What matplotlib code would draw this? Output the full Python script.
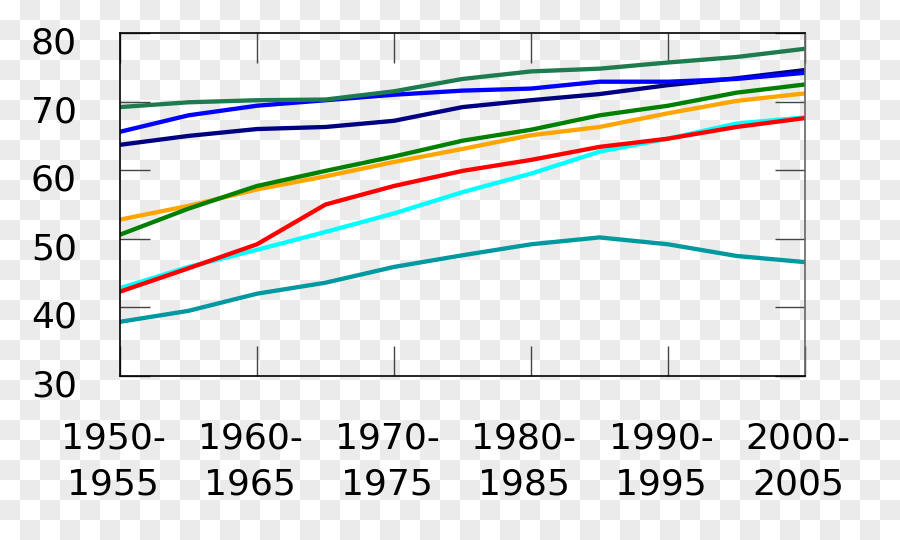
"""Life expectancy by region, 1950-2005 (line chart recreation)."""

import matplotlib

matplotlib.use("Agg")
import matplotlib.pyplot as plt
import matplotlib.transforms as mtransforms
import numpy as np

# five-year periods, one point each
periods = [
    "1950-\n1955", "1955-\n1960", "1960-\n1965", "1965-\n1970",
    "1970-\n1975", "1975-\n1980", "1980-\n1985", "1985-\n1990",
    "1990-\n1995", "1995-\n2000", "2000-\n2005",
]

top_green = [69.2, 69.9, 70.2, 70.3, 71.5, 73.3, 74.4, 74.8, 75.7, 76.5, 77.7]
blue = [65.6, 68.0, 69.4, 70.2, 71.0, 71.6, 71.9, 72.9, 72.9, 73.3, 74.2]
navy = [63.7, 65.0, 66.0, 66.3, 67.2, 69.2, 70.2, 71.1, 72.4, 73.4, 74.6]
green = [50.6, 54.4, 57.7, 59.9, 62.0, 64.3, 65.9, 68.0, 69.4, 71.3, 72.5]
orange = [52.8, 54.8, 57.2, 59.1, 61.2, 63.1, 65.1, 66.3, 68.3, 70.1, 71.2]
red = [42.3, 45.7, 49.2, 55.0, 57.7, 59.9, 61.5, 63.4, 64.6, 66.3, 67.6]
cyan = [42.8, 45.9, 48.4, 51.0, 53.7, 56.8, 59.5, 62.7, 64.6, 66.8, 67.7]
teal = [37.9, 39.5, 42.0, 43.6, 45.9, 47.6, 49.2, 50.2, 49.2, 47.5, 46.6]

series = [
    (teal, "#00999f"),
    (cyan, "#00ffff"),
    (red, "#ff0000"),
    (orange, "#ffa500"),
    (green, "#008000"),
    (navy, "#000080"),
    (blue, "#0000ff"),
    (top_green, "#1e7b4f"),
]

y_ticks = [30, 40, 50, 60, 70, 80]

plt.rcParams["font.family"] = "DejaVu Sans"

fig = plt.figure(figsize=(9, 5.4), dpi=100)

# transparent-background checkerboard as shown in the reference
cell = 20
rows, cols = 540 // cell + 1, 900 // cell + 1
board = (np.add.outer(np.arange(rows), np.arange(cols)) % 2).astype(float)
board = np.kron(board, np.ones((cell, cell)))[:540, :900]
rgb = np.where(board[..., None] > 0, 0.925, 1.0) * np.ones((1, 1, 3))
fig.figimage(rgb[::-1], xo=0, yo=0, origin="lower", zorder=-10)

ax = fig.add_axes([120 / 900, 1 - 376 / 540, 685 / 900, 343 / 540])
ax.patch.set_alpha(0)

x = np.arange(len(periods))
for vals, col in series:
    ax.plot(x, vals, color=col, lw=3.1, solid_capstyle="butt")

ax.set_xlim(0, len(periods) - 1)
ax.set_ylim(30, 80)
ax.set_yticks(y_ticks)
ax.set_yticklabels([str(v) for v in y_ticks])
ax.set_xticks(x[::2])
ax.set_xticklabels(periods[::2], linespacing=1.45)

ax.tick_params(
    axis="both", direction="in", length=21.6, width=1.0, color="#444444",
    labelsize=26, top=True, right=True,
)
ax.tick_params(axis="y", pad=31)
ax.tick_params(axis="x", pad=33)

for name in ("left", "top", "bottom"):
    ax.spines[name].set_color("black")
    ax.spines[name].set_linewidth(1.2)
ax.spines["right"].set_color("#666666")
ax.spines["right"].set_linewidth(1.2)

# nudge labels to where the reference puts them
dy = mtransforms.ScaledTranslation(0, -7 / 100, fig.dpi_scale_trans)
for lab in ax.get_yticklabels():
    lab.set_transform(lab.get_transform() + dy)
dx = mtransforms.ScaledTranslation(-7 / 100, 0, fig.dpi_scale_trans)
for lab in ax.get_xticklabels():
    lab.set_transform(lab.get_transform() + dx)
    lab.set_multialignment("center")

fig.savefig("out.png", dpi=100)
